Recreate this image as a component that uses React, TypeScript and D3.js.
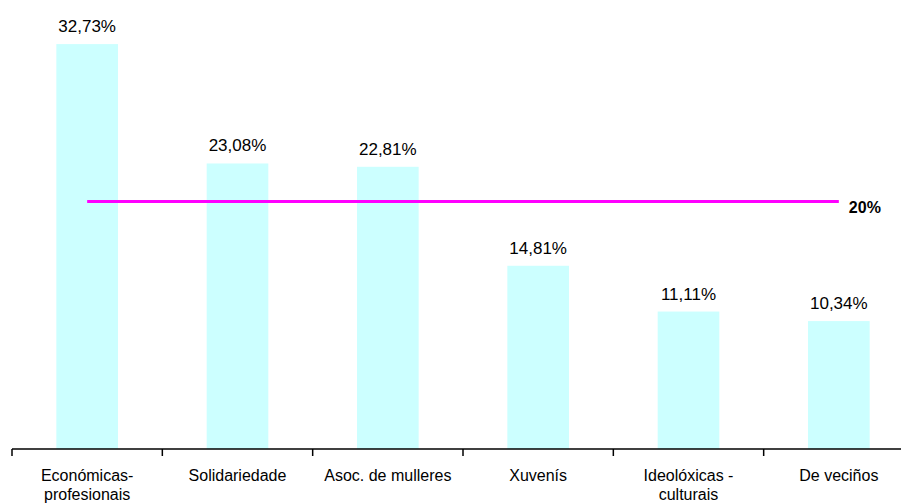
import React from 'react';
import * as d3 from 'd3';

// data
const categories = [
  ['Económicas-', 'profesionais'],
  ['Solidariedade'],
  ['Asoc. de mulleres'],
  ['Xuvenís'],
  ['Ideolóxicas -', 'culturais'],
  ['De veciños'],
];
const values = [32.73, 23.08, 22.81, 14.81, 11.11, 10.34];
const reference = [20, 20, 20, 20, 20, 20];
const referenceLabel = '20%';

const W = 901;
const H = 504;
const font = '"Liberation Sans", Arial, sans-serif';

const fmt = (v: number) => v.toFixed(2).replace('.', ',') + '%';

export default function App() {
  const x = d3.scaleBand<number>()
    .domain(values.map((_, i) => i))
    .range([12, 914])
    .padding(0);
  const y = d3.scaleLinear().domain([0, 35]).range([449, 16]);
  const barW = x.bandwidth() * 0.41;
  const cx = (i: number) => (x(i) as number) + x.bandwidth() / 2;

  const line = d3.line<number>()
    .x((_, i) => cx(i))
    .y((d) => y(d));

  const ticks = values.map((_, i) => x(i) as number);

  return (
    <svg width={W} height={H} style={{ position: 'absolute', left: 0, top: 0, background: '#fff' }}>
      {/* bars */}
      {values.map((v, i) => (
        <rect key={i} x={cx(i) - barW / 2} y={y(v)} width={barW} height={y(0) - y(v)} fill="#CCFFFF" />
      ))}
      {/* value labels */}
      {values.map((v, i) => (
        <text key={i} x={cx(i)} y={y(v) - 12} textAnchor="middle" fontFamily={font} fontSize={17} fill="#000">
          {fmt(v)}
        </text>
      ))}
      {/* reference line */}
      <path d={line(reference) || ''} fill="none" stroke="#FF00FF" strokeWidth={3} />
      <text x={cx(values.length - 1) + 10} y={y(reference[reference.length - 1]) + 11}
        fontFamily={font} fontSize={16} fontWeight="bold" fill="#000">
        {referenceLabel}
      </text>
      {/* axis */}
      <line x1={12} x2={W} y1={y(0)} y2={y(0)} stroke="#000" strokeWidth={1.5} />
      {ticks.map((t, i) => (
        <line key={i} x1={t} x2={t} y1={y(0)} y2={y(0) + 7} stroke="#000" strokeWidth={1.5} />
      ))}
      {/* category labels */}
      {categories.map((lines, i) => (
        <text key={i} x={cx(i)} textAnchor="middle" fontFamily={font} fontSize={16} fill="#000">
          {lines.map((l, j) => (
            <tspan key={j} x={cx(i)} y={481 + j * 19}>{l}</tspan>
          ))}
        </text>
      ))}
    </svg>
  );
}
